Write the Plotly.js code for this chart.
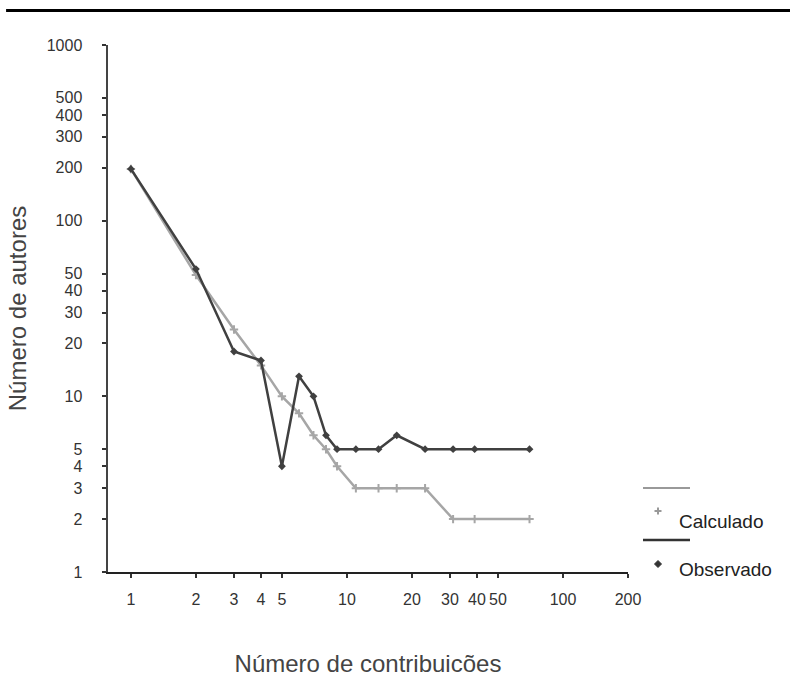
<!DOCTYPE html>
<html>
<head>
<meta charset="utf-8">
<script src="https://cdn.plot.ly/plotly-3.0.1.min.js"></script>
<style>html,body{margin:0;padding:0;background:#fff;}#chart{width:790px;height:689px;}</style>
</head>
<body>
<div id="chart"></div>
<script>
// Data
const contribuicoes = [1, 2, 3, 4, 5, 6, 7, 8, 9, 11, 14, 17, 23, 31, 39, 70];
const calculado =     [197, 49, 24, 15, 10, 8, 6, 5, 4, 3, 3, 3, 3, 2, 2, 2];
const observado =     [197, 53, 18, 16, 4, 13, 10, 6, 5, 5, 5, 6, 5, 5, 5, 5];
const xTicks = [1, 2, 3, 4, 5, 10, 20, 30, 40, 50, 100, 200];
const xTickLabels = ['1', '2', '3', '4', '5', '10', '20', '30', '40', '50', '100', '200'];
const yTicks = [1, 2, 3, 4, 5, 10, 20, 30, 40, 50, 100, 200, 300, 400, 500, 1000];
const yTickLabels = ['1', '2', '3', '4', '5', '10', '20', '30', '40', '50', '100', '200', '300', '400', '500', '1000'];
const seriesNames = ['Calculado', 'Observado'];

const FONT = "'Liberation Sans', Arial, sans-serif";
const calcColor = '#a6a6a6';
const obsColor = '#404040';

const traces = [
  {
    x: contribuicoes, y: calculado, name: seriesNames[0], type: 'scatter', mode: 'lines+markers',
    line: {color: calcColor, width: 2.5},
    marker: {symbol: 'cross-thin', size: 6, line: {color: calcColor, width: 2}, color: calcColor},
    showlegend: false, cliponaxis: false
  },
  {
    x: contribuicoes, y: observado, name: seriesNames[1], type: 'scatter', mode: 'lines+markers',
    line: {color: obsColor, width: 2.5},
    marker: {symbol: 'diamond', size: 6, color: obsColor},
    showlegend: false, cliponaxis: false
  }
];

// legend helpers (paper coordinates)
function px2x(px) { return (px - 108) / 520; }
function px2y(py) { return (572 - py) / 527; }
const cx = px2x(658), cy = px2y(511), dy2 = px2y(564);
const hx = 3.5 / 520, hy = 3.5 / 527;

const layout = {
  width: 790, height: 689,
  margin: {l: 108, r: 162, t: 45, b: 117},
  paper_bgcolor: '#fff', plot_bgcolor: '#fff',
  font: {family: FONT, color: '#333', size: 16},
  showlegend: false,
  xaxis: {
    type: 'log', range: [-0.106, 2.301],
    tickvals: xTicks, ticktext: xTickLabels,
    ticks: 'outside', ticklen: 4, tickwidth: 2, tickcolor: '#333',
    ticklabelstandoff: 8,
    showline: true, linecolor: '#222', linewidth: 1.5,
    showgrid: false, zeroline: false,
    tickfont: {family: FONT, size: 16, color: '#333'},
    title: {text: 'Número de contribuicões', font: {family: FONT, size: 24, color: '#444'}, standoff: 48}
  },
  yaxis: {
    type: 'log', range: [0, 3],
    tickvals: yTicks, ticktext: yTickLabels,
    ticks: 'outside', ticklen: 4, tickwidth: 2, tickcolor: '#333',
    ticklabelstandoff: 16,
    showline: true, linecolor: '#444', linewidth: 2.5,
    showgrid: false, zeroline: false,
    tickfont: {family: FONT, size: 16, color: '#333'},
    title: {text: 'Número de autores', font: {family: FONT, size: 24, color: '#444'}, standoff: 14}
  },
  shapes: [
    {type: 'line', xref: 'paper', yref: 'paper', x0: -0.196, x1: 1.32, y0: 1.0655, y1: 1.0655, line: {color: '#000', width: 3}},
    {type: 'line', xref: 'paper', yref: 'paper', x0: px2x(643), x1: px2x(690), y0: px2y(488), y1: px2y(488), line: {color: '#999', width: 2}},
    {type: 'line', xref: 'paper', yref: 'paper', x0: px2x(643), x1: px2x(690), y0: px2y(540), y1: px2y(540), line: {color: '#333', width: 2.5}},
    {type: 'line', xref: 'paper', yref: 'paper', x0: cx - hx, x1: cx + hx, y0: cy, y1: cy, line: {color: '#999', width: 2}},
    {type: 'line', xref: 'paper', yref: 'paper', x0: cx, x1: cx, y0: cy - hy, y1: cy + hy, line: {color: '#999', width: 2}},
    {type: 'path', xref: 'paper', yref: 'paper',
     path: `M ${cx - hx},${dy2} L ${cx},${dy2 + hy} L ${cx + hx},${dy2} L ${cx},${dy2 - hy} Z`,
     fillcolor: '#333', line: {color: '#333', width: 1}}
  ],
  annotations: [
    {xref: 'paper', yref: 'paper', x: px2x(677), y: px2y(521), xanchor: 'left', yanchor: 'middle', text: 'Calculado', showarrow: false, font: {family: FONT, size: 19, color: '#222'}},
    {xref: 'paper', yref: 'paper', x: px2x(677), y: px2y(569), xanchor: 'left', yanchor: 'middle', text: 'Observado', showarrow: false, font: {family: FONT, size: 19, color: '#222'}}
  ]
};

Plotly.newPlot('chart', traces, layout, {displayModeBar: false, staticPlot: true});
</script>
</body>
</html>
